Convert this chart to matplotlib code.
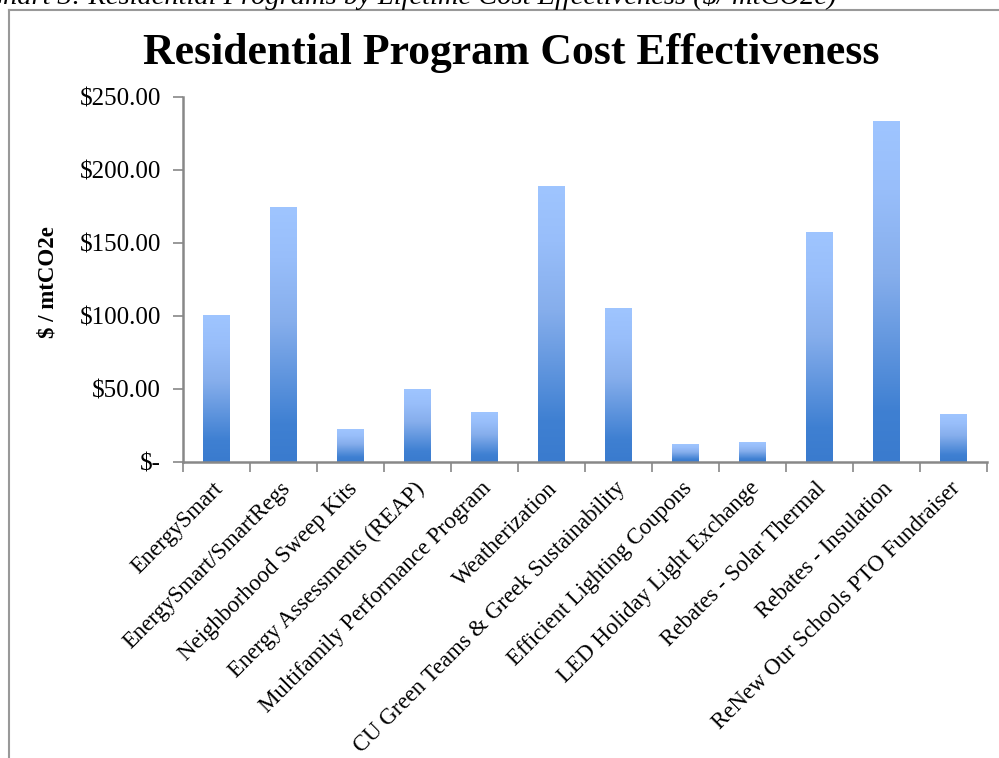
import numpy as np
import matplotlib
matplotlib.use("Agg")
import matplotlib.pyplot as plt
from matplotlib.colors import LinearSegmentedColormap
from matplotlib.lines import Line2D
from matplotlib.ticker import FuncFormatter

programas = [
    "EnergySmart", "EnergySmart/SmartRegs", "Neighborhood Sweep Kits",
    "Energy Assessments (REAP)", "Multifamily Performance Program",
    "Weatherization", "CU Green Teams & Greek Sustainability",
    "Efficient Lighting Coupons", "LED Holiday Light Exchange",
    "Rebates - Solar Thermal", "Rebates - Insulation",
    "ReNew Our Schools PTO Fundraiser",
]
custo_por_ton = [100, 174, 22, 50, 34, 189, 105, 12, 13.5, 157, 233, 32.5]
yticks = [0, 50, 100, 150, 200, 250]

plt.rcParams["font.family"] = ["Liberation Serif", "DejaVu Serif"]

W, H = 999, 758
fig = plt.figure(figsize=(W / 100, H / 100), dpi=100)
ax = fig.add_axes([183 / W, 1 - 462 / H, (987 - 183) / W, (462 - 97) / H])

# gradiente vertical das barras (escuro embaixo, claro em cima)
cmap = LinearSegmentedColormap.from_list(
    "barra", [(0.0, "#3a7bce"), (0.15, "#3f80d2"), (0.55, "#86aeec"),
              (0.8, "#98befa"), (1.0, "#9fc5ff")])
grad = np.linspace(0, 1, 256).reshape(-1, 1)
larg = 0.39
for i, v in enumerate(custo_por_ton):
    ax.imshow(grad, cmap=cmap, origin="lower", aspect="auto",
              extent=[i - larg / 2, i + larg / 2, 0, v], zorder=2)

ax.set_xlim(-0.5, len(programas) - 0.5)
ax.set_ylim(0, 250)
ax.set_yticks(yticks)
ax.yaxis.set_major_formatter(FuncFormatter(lambda v, p: "$-" if v == 0 else f"${v:,.2f}"))
ax.tick_params(axis="y", labelsize=18, length=7, width=1.2, color="#888888", pad=9)

ax.set_xticks(np.arange(len(programas) + 1) - 0.5)
ax.set_xticklabels([])
ax.tick_params(axis="x", length=7, width=1.2, color="#888888")
for i, nome in enumerate(programas):
    ax.text(i + 0.05, -16, nome, rotation=45, rotation_mode="anchor",
            ha="right", va="center", fontsize=16.5, transform=ax.transData,
            clip_on=False)

for s in ("top", "right"):
    ax.spines[s].set_visible(False)
for s in ("left", "bottom"):
    ax.spines[s].set_color("#888888")
    ax.spines[s].set_linewidth(1.8)

fig.text(48 / W, 1 - 282 / H, "$ / mtCO2e", rotation=90, ha="center", va="center",
         fontsize=16.5, fontweight="bold")
fig.text(511 / W, 1 - 64 / H, "Residential Program Cost Effectiveness",
         ha="center", va="baseline", fontsize=31.5, fontweight="bold")
fig.text(-16 / W, 1 - 4 / H,
         "Chart 3: Residential Programs by Lifetime Cost Effectiveness ($/ mtCO2e)",
         ha="left", va="baseline", fontsize=20.5, style="italic")

# moldura cinza do documento
yb = 1 - 10 / H
fig.add_artist(Line2D([9 / W, 9 / W], [0, yb], color="#999999", lw=1.5))
fig.add_artist(Line2D([9 / W, 1], [yb, yb], color="#999999", lw=1.5))

fig.savefig("out.png", dpi=100)
